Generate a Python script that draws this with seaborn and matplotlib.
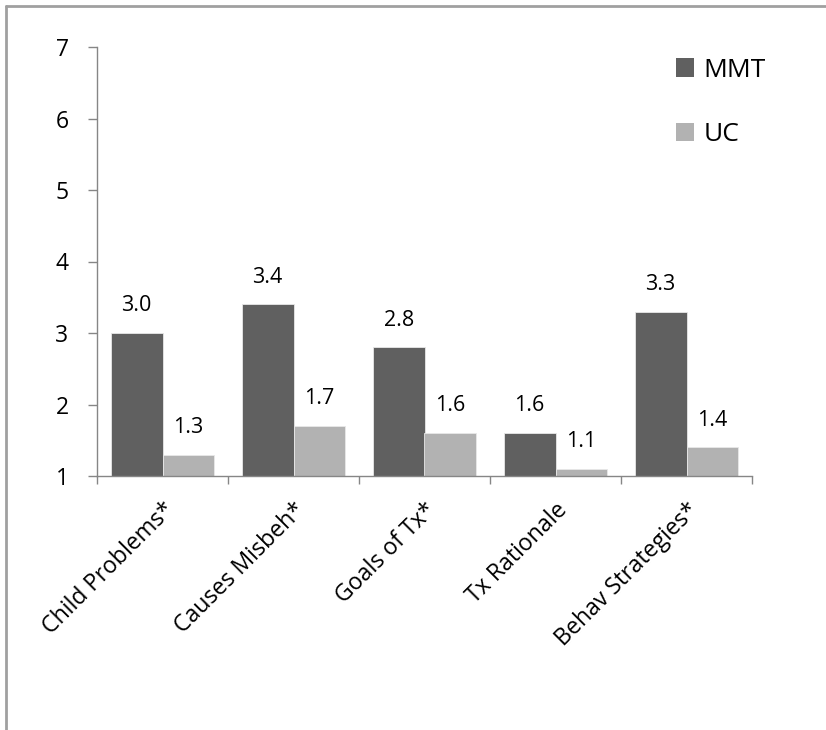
import matplotlib
matplotlib.use("Agg")
import matplotlib.pyplot as plt
import seaborn as sns
import pandas as pd
from matplotlib.lines import Line2D
from matplotlib.patches import Patch

# ---- data ----
categories = ["Child Problems*", "Causes Misbeh*", "Goals of Tx*",
              "Tx Rationale", "Behav Strategies*"]
mmt = [3.0, 3.4, 2.8, 1.6, 3.3]
uc = [1.3, 1.7, 1.6, 1.1, 1.4]
groups = ["MMT", "UC"]
colors = ["#606060", "#b2b2b2"]
y_ticks = [1, 2, 3, 4, 5, 6, 7]

df = pd.DataFrame({
    "cat": categories * 2,
    "grp": ["MMT"] * len(categories) + ["UC"] * len(categories),
    "val": mmt + uc,
})

sns.set_style("white")
plt.rcParams["font.family"] = ["Open Sans", "DejaVu Sans"]
plt.rcParams["text.color"] = "black"
plt.rcParams["xtick.labelcolor"] = "black"
plt.rcParams["ytick.labelcolor"] = "black"

fig = plt.figure(figsize=(8.26, 7.30), dpi=100)
ax = fig.add_axes([97 / 826, 1 - 476 / 730, 655 / 826, 429 / 730])

sns.barplot(data=df, x="cat", y="val", hue="grp", order=categories,
            hue_order=groups, palette=colors, width=0.79, ax=ax,
            edgecolor="#e8e8e8", linewidth=0.6, legend=False)

ax.set_ylim(1, 7)
ax.set_xlim(-0.5, len(categories) - 0.5)
ax.set_yticks(y_ticks)
ax.set_yticklabels([str(t) for t in y_ticks], fontsize=16.5, color="black")
ax.set_xlabel("")
ax.set_ylabel("")

# category labels at centres, tick marks at boundaries
ax.set_xticks(range(len(categories)))
ax.set_xticklabels(categories, rotation=45, ha="right", va="top",
                   rotation_mode="anchor", fontsize=16.7, color="black")
ax.set_xticks([i - 0.5 for i in range(len(categories) + 1)], minor=True)
ax.tick_params(axis="x", which="major", length=0, pad=16)
ax.tick_params(axis="x", which="minor", length=6, width=1, color="#868686",
               direction="out", bottom=True)
ax.tick_params(axis="y", length=6.5, width=1, color="#868686",
               direction="out", left=True, pad=14)

for s in ["top", "right"]:
    ax.spines[s].set_visible(False)
for s in ["left", "bottom"]:
    ax.spines[s].set_color("#868686")
    ax.spines[s].set_linewidth(1)

# value labels
for cont in ax.containers:
    ax.bar_label(cont, fmt="%.1f", padding=12, fontsize=15.5, color="black")

# legend
handles = [Patch(facecolor=c, edgecolor="none") for c in colors]
leg = fig.legend(handles, groups, loc="upper left",
                 bbox_to_anchor=(652 / 826, 1 - 34 / 730), frameon=False,
                 fontsize=19, labelspacing=1.5, handlelength=0.7,
                 handleheight=0.7, handletextpad=0.35)
for t in leg.get_texts():
    t.set_color("black")

# outer frame (left and top edges visible)
fig.add_artist(Line2D([6 / 826, 6 / 826], [0, 1 - 6 / 730], color="#a0a0a0",
                      linewidth=2, transform=fig.transFigure))
fig.add_artist(Line2D([6 / 826, 1], [1 - 6 / 730, 1 - 6 / 730],
                      color="#a0a0a0", linewidth=2,
                      transform=fig.transFigure))

fig.savefig("out.png", dpi=100)
